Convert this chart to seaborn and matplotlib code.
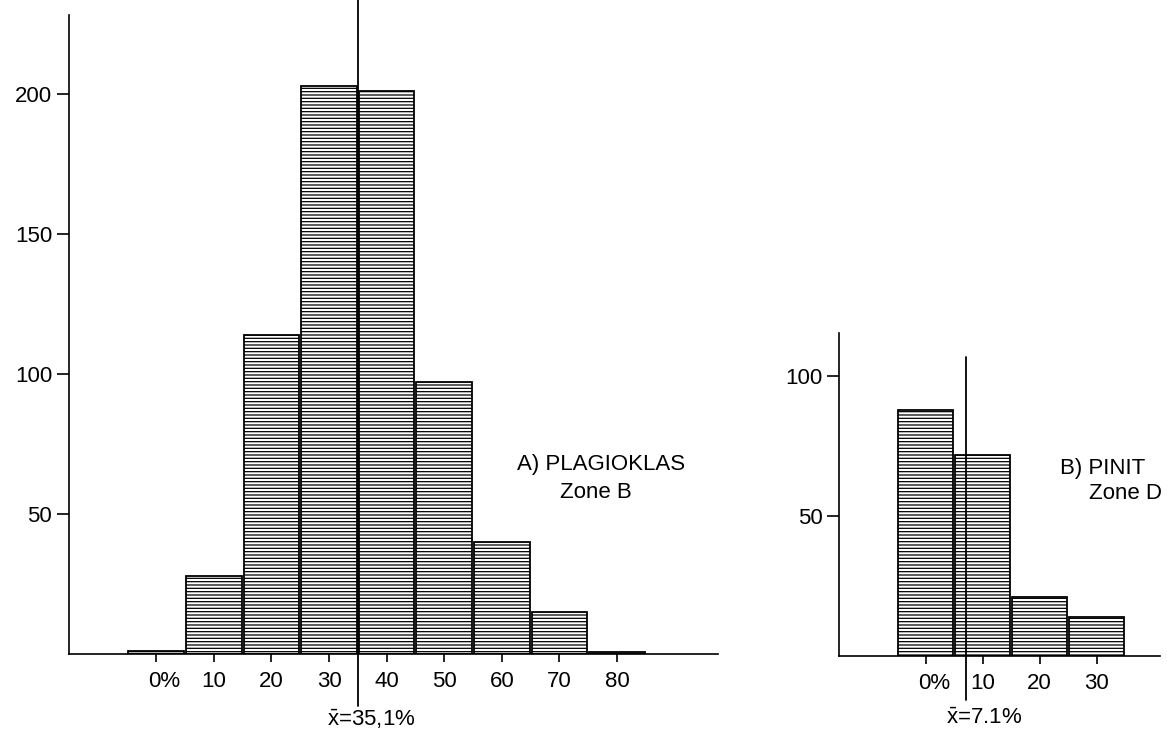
import numpy as np
import pandas as pd
import matplotlib
matplotlib.use("Agg")
import matplotlib.pyplot as plt
import matplotlib.transforms as mtransforms
import seaborn as sns

# ---------------- data ----------------
plag_classes = [0, 10, 20, 30, 40, 50, 60, 70, 80]
plag_counts = [1.2, 28, 114, 203, 201, 97, 40, 15, 0.6]
plag_mean = 35.1
plag_ticklabels = ["0%", "10", "20", "30", "40", "50", "60", "70", "80"]
plag_yticks = [50, 100, 150, 200]

pinit_classes = [0, 10, 20, 30]
pinit_counts = [88, 72, 21, 14]
pinit_mean = 7.1
pinit_ticklabels = ["0%", "10", "20", "30"]
pinit_yticks = [50, 100]

plag_title = ["A) PLAGIOKLAS", "Zone B"]
pinit_title = ["B) PINIT", "Zone D"]
plag_mean_label = r"$\bar{\mathrm{x}}$=35,1%"
pinit_mean_label = r"$\bar{\mathrm{x}}$=7.1%"

# ---------------- style ----------------
sns.set_style("ticks", {"axes.edgecolor": "black", "text.color": "black",
                        "xtick.color": "black", "ytick.color": "black",
                        "axes.labelcolor": "black"})
plt.rcParams["font.family"] = ["Liberation Sans", "DejaVu Sans"]
plt.rcParams["mathtext.fontset"] = "custom"
plt.rcParams["mathtext.rm"] = "Liberation Sans"
plt.rcParams["hatch.linewidth"] = 0.9
plt.rcParams["hatch.color"] = "black"

FS = 16

fig = plt.figure(figsize=(11.67, 7.33), dpi=100)
ax1 = fig.add_axes([0.0591, 0.1078, 0.556, 0.8717])
ax2 = fig.add_axes([0.719, 0.105, 0.275, 0.4406])


def draw(ax, classes, counts, xlim, ylim, yticks, ticklabels, mean, mean_lab,
         line_y, title, title_pos, lab_dx):
    df = pd.DataFrame({"cls": classes, "n": counts})
    lo = min(classes) - 5
    hi = max(classes) + 5
    sns.histplot(data=df, x="cls", weights="n", binwidth=10, binrange=(lo, hi),
                 shrink=0.965, color="white", edgecolor="black", linewidth=1.3,
                 hatch="-----", alpha=1, ax=ax)
    ax.set_xlim(*xlim)
    ax.set_ylim(*ylim)
    ax.set_xticks(classes)
    ax.set_xticklabels(ticklabels, fontsize=FS)
    ax.set_yticks(yticks)
    ax.set_yticklabels([str(v) for v in yticks], fontsize=FS)
    ax.set_xlabel("")
    ax.set_ylabel("")
    for s in ["top", "right"]:
        ax.spines[s].set_visible(False)
    for s in ["left", "bottom"]:
        ax.spines[s].set_linewidth(1.2)
    ax.tick_params(axis="x", length=6, width=1.2, pad=6, direction="out")
    ax.tick_params(axis="y", length=9, width=1.2, pad=3, direction="out")
    # shift "0%" so that the digit sits on its tick
    lbl = ax.get_xticklabels()[0]
    lbl.set_transform(lbl.get_transform() +
                      mtransforms.ScaledTranslation(0.08, 0, fig.dpi_scale_trans))
    # mean line
    ax.plot([mean, mean], line_y, color="black", lw=1.3, clip_on=False, zorder=5)
    trans = mtransforms.blended_transform_factory(ax.transData, fig.transFigure)
    ax.text(mean + lab_dx, 1 - 719 / 733, mean_lab, transform=trans,
            ha="center", va="center", fontsize=FS)
    (x1, y1), (x2, y2) = title_pos
    ax.text(x1, y1, title[0], ha="left", va="center", fontsize=FS)
    ax.text(x2, y2, title[1], ha="left", va="center", fontsize=FS)


draw(ax1, plag_classes, plag_counts, (-15.16, 97.5), (0, 228.2), plag_yticks,
     plag_ticklabels, plag_mean, plag_mean_label, (-18.5, 233.6), plag_title,
     ((62.6, 67.5), (70.1, 57.8)), 2.2)
draw(ax2, pinit_classes, pinit_counts, (-15.2, 41.1), (0, 115.4), pinit_yticks,
     pinit_ticklabels, pinit_mean, pinit_mean_label, (-15.7, 106.8), pinit_title,
     ((23.6, 67.1), (28.6, 57.9)), 3.2)

fig.savefig("out.png", dpi=100)
